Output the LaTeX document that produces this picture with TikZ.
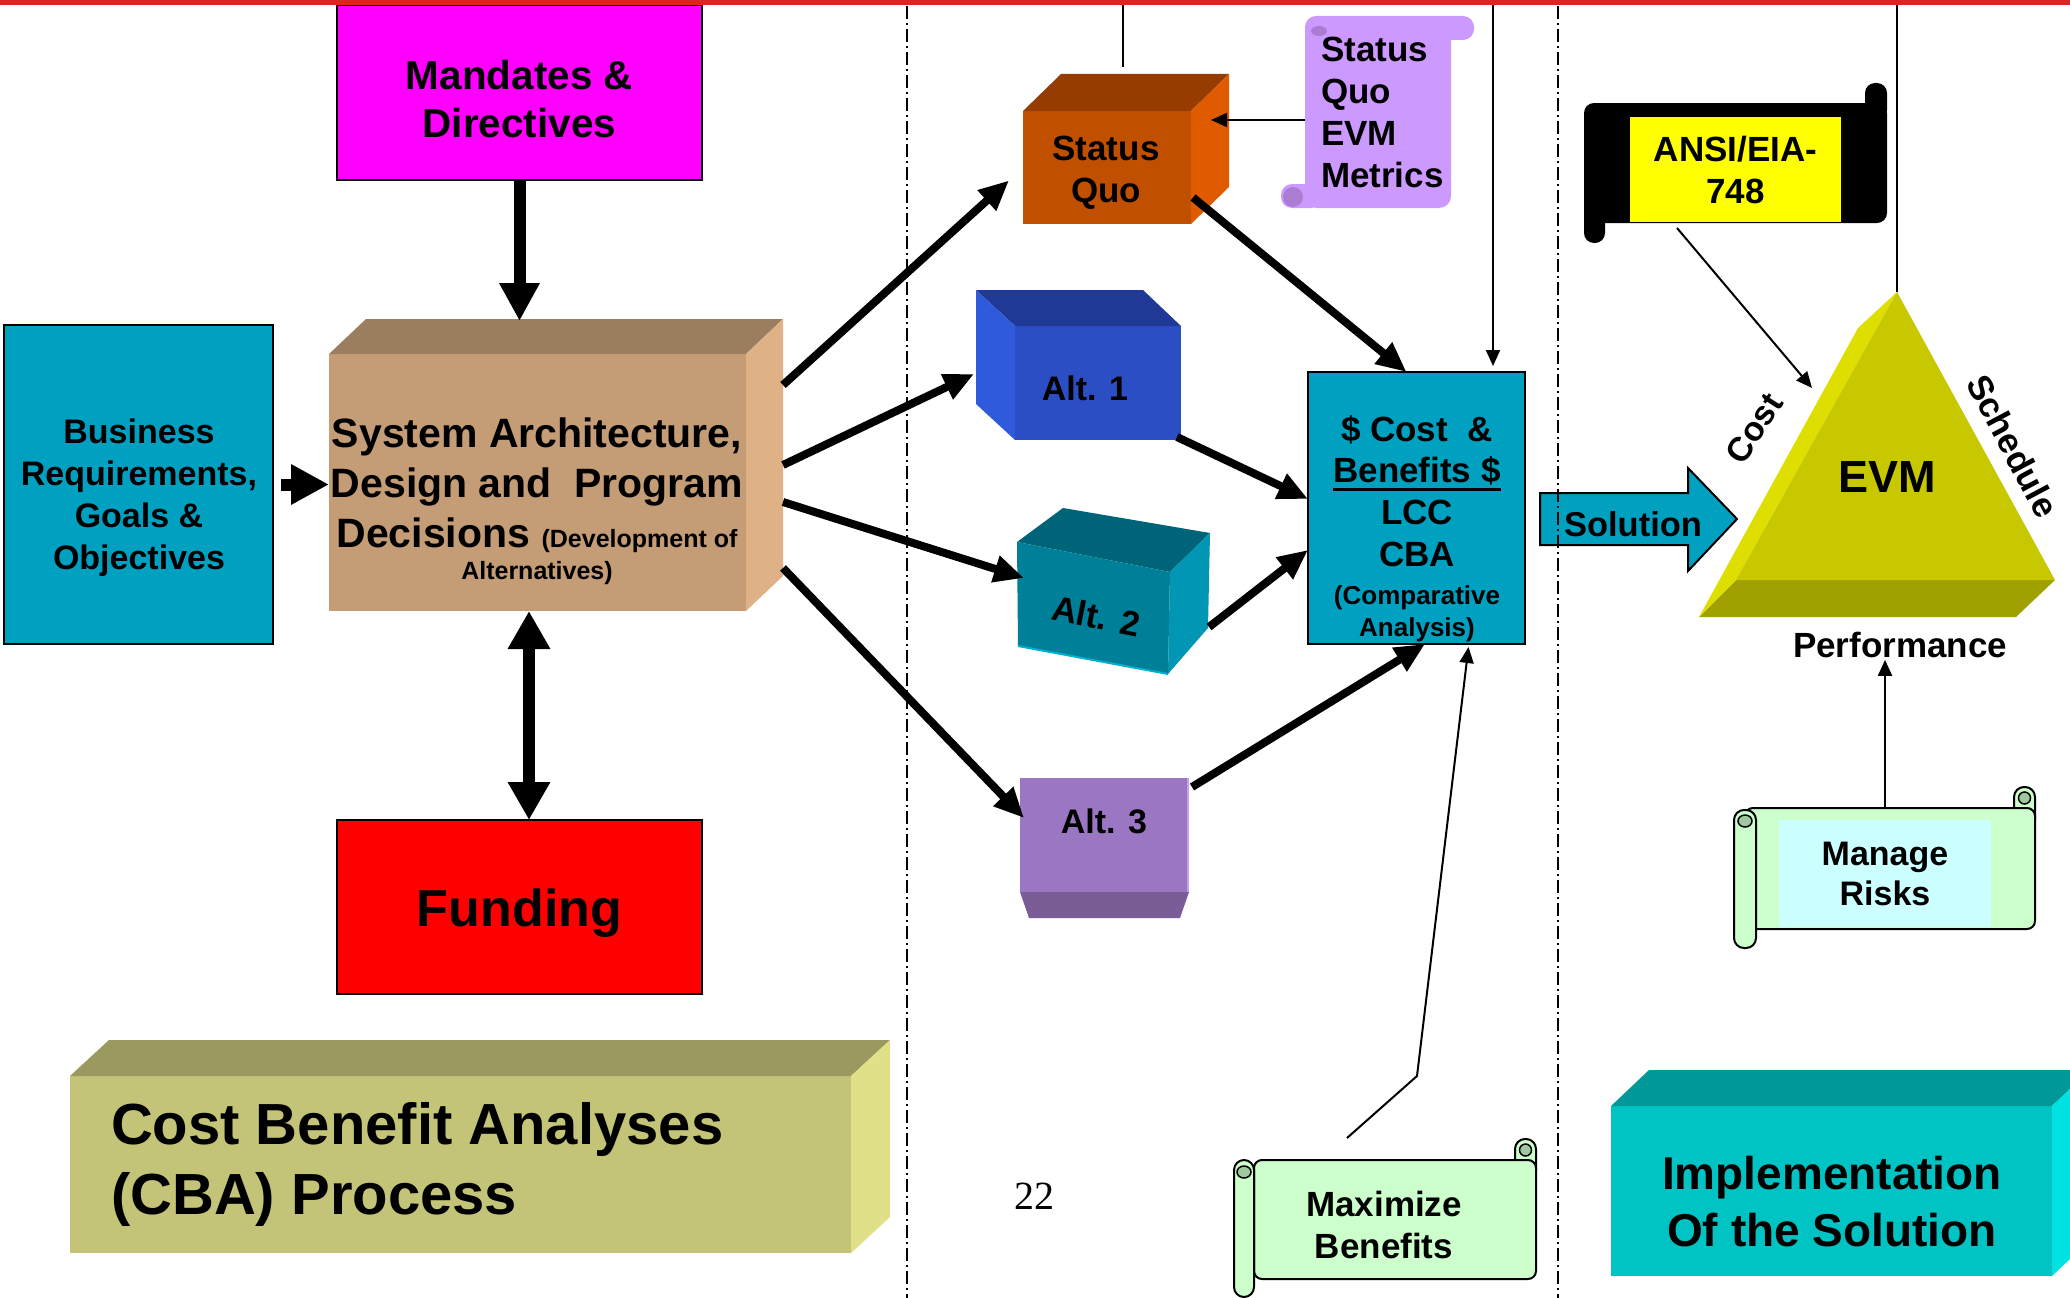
\documentclass[tikz,border=0pt]{standalone}
\usepackage{fontspec}
\setmainfont{Liberation Sans}
\newfontfamily\pagenumfont{Liberation Serif}
\usetikzlibrary{arrows.meta,calc}

\definecolor{topred}{RGB}{222,35,35}
\definecolor{magentabox}{RGB}{255,0,255}
\definecolor{bizblue}{RGB}{0,160,192}
\definecolor{sysfront}{RGB}{196,156,118}
\definecolor{systop}{RGB}{155,125,95}
\definecolor{sysside}{RGB}{222,178,134}
\definecolor{fundred}{RGB}{255,0,0}
\definecolor{sqfront}{RGB}{192,80,0}
\definecolor{sqtop}{RGB}{150,60,0}
\definecolor{sqside}{RGB}{224,90,0}
\definecolor{altAfront}{RGB}{43,78,196}
\definecolor{altAtop}{RGB}{33,57,150}
\definecolor{altAside}{RGB}{48,90,220}
\definecolor{altBfront}{RGB}{0,128,152}
\definecolor{altBtop}{RGB}{0,100,120}
\definecolor{altBside}{RGB}{0,150,180}
\definecolor{altBedge}{RGB}{0,175,205}
\definecolor{altCfront}{RGB}{155,118,194}
\definecolor{altCbottom}{RGB}{122,92,150}
\definecolor{altClight}{RGB}{200,160,240}
\definecolor{metricpurple}{RGB}{204,153,255}
\definecolor{metriccurl}{RGB}{170,125,210}
\definecolor{ansiyellow}{RGB}{255,255,0}
\definecolor{evmfront}{RGB}{200,200,0}
\definecolor{evmbevel}{RGB}{222,222,0}
\definecolor{evmbottom}{RGB}{160,160,0}
\definecolor{scrollgreen}{RGB}{204,255,204}
\definecolor{scrollcurl}{RGB}{160,200,160}
\definecolor{riskcyan}{RGB}{204,255,255}
\definecolor{cbafront}{RGB}{196,196,120}
\definecolor{cbatop}{RGB}{153,153,96}
\definecolor{cbaside}{RGB}{224,224,136}
\definecolor{implfront}{RGB}{0,196,196}
\definecolor{impltop}{RGB}{0,152,152}
\definecolor{implside}{RGB}{0,226,226}

\newcommand\fsz[2]{\fontsize{#1}{#2}\selectfont}
\newsavebox\ulsave
\newcommand\ulbox[1]{\sbox\ulsave{#1}\rlap{\rule[-8pt]{\wd\ulsave}{3pt}}\usebox\ulsave}

\tikzset{
  box/.style={rectangle, inner sep=0pt, outer sep=0pt},
  txt/.style={inner sep=0pt, outer sep=0pt, align=center, font=\bfseries},
  bigarrow/.style={line width=12pt, -{Triangle[length=38pt,width=38pt]}},
  bigdouble/.style={line width=12pt, {Triangle[length=38pt,width=40pt]}-{Triangle[length=38pt,width=40pt]}},
  feed/.style={line width=8pt, -{Triangle[length=30pt,width=26pt]}},
  thinarrow/.style={line width=2pt, -{Triangle[length=16pt,width=14pt]}},
  plainline/.style={line width=2pt},
  divider/.style={line width=1.5pt, dash pattern=on 13pt off 4pt on 2pt off 4pt},
}

\begin{document}
\begin{tikzpicture}[x=1pt,y=-1pt]
\useasboundingbox (0,0) rectangle (2070,1298);
\clip (0,0) rectangle (2070,1298);
\fill[white] (0,0) rectangle (2070,1298);

% ---------- left column ----------
\node[box, draw, line width=2pt, fill=magentabox, minimum width=365pt, minimum height=175pt] (mand) at (519.5,92.5) {};
\node[txt, font=\bfseries\fsz{40.5}{48}] (mandtxt) at (519.5,99) {Mandates \&\\Directives};

\node[box, draw, line width=2pt, fill=bizblue, minimum width=269pt, minimum height=319pt] (biz) at (138.5,484.5) {};
\node[txt, font=\bfseries\fsz{34}{42}] (biztxt) at (139,498) {Business\\Requirements,\\Goals \&\\Objectives};

% system architecture block
\node[box, fill=sysfront, minimum width=417pt, minimum height=257pt] (sys) at (537.5,482.5) {};
\fill[systop] (sys.north west) -- ++(37,-35) -- ($(sys.north east)+(37,-35)$) -- (sys.north east) -- cycle;
\fill[sysside] (sys.north east) -- ++(37,-35) -- ($(sys.south east)+(37,-35)$) -- (sys.south east) -- cycle;
\node[txt, font=\bfseries\fsz{41}{50}] (systxt) at (537,485) {System Architecture,\\Design and~~Program\\Decisions {\fsz{25}{30}(Development of}};
\node[txt, font=\bfseries\fsz{25}{30}] (systxt2) at (537,573) {Alternatives)};

\node[box, draw, line width=2pt, fill=fundred, minimum width=365pt, minimum height=174pt] (fund) at (519.5,907) {};
\node[txt, font=\bfseries\fsz{52}{60}] (fundtxt) at (519.5,913) {Funding};

\coordinate (sysback) at ($(sys.north)+(0,-33)$);
\draw[bigarrow] (mand.south) -- (mand.south |- sysback);
\draw[bigarrow, shorten <=8pt] (biz.east) -- (sys.west |- biz.east);
\coordinate (sysbot) at ($(sys.south)+(-8.5,0)$);
\coordinate (fundtop) at ($(fund.north)+(9.5,0)$);
\draw[bigdouble] (sysbot) -- (fundtop);

% process title block
\node[box, fill=cbafront, minimum width=781pt, minimum height=177pt] (proc) at (460.5,1164.5) {};
\fill[cbatop] (proc.north west) -- ++(39,-36) -- ($(proc.north east)+(39,-36)$) -- (proc.north east) -- cycle;
\fill[cbaside] (proc.north east) -- ++(39,-36) -- ($(proc.south east)+(39,-36)$) -- (proc.south east) -- cycle;
\node[txt, align=left, anchor=west, font=\bfseries\fsz{58}{70}] (proctxt) at (111,1164) {Cost Benefit Analyses\\(CBA) Process};

% ---------- middle column ----------
% status quo block
\node[box, fill=sqfront, minimum width=168pt, minimum height=113pt] (sq) at (1107,167.5) {};
\fill[sqtop] (sq.north west) -- ++(38,-37) -- ($(sq.north east)+(38,-37)$) -- (sq.north east) -- cycle;
\fill[sqside] (sq.north east) -- ++(38,-37) -- ($(sq.south east)+(38,-37)$) -- (sq.south east) -- cycle;
\node[txt, font=\bfseries\fsz{35}{42}] (sqtxt) at (1106,173) {Status\\Quo};

% metrics scroll
\fill[metricpurple, rounded corners=11pt] (1305,16) rectangle (1474,40);
\node[box, fill=metricpurple, rounded corners=12pt, minimum width=146pt, minimum height=190pt] (sqm) at (1378,113) {};
\fill[metricpurple, rounded corners=11pt] (1281,184) rectangle (1322,208);
\fill[metriccurl] (1293,197) circle (10);
\fill[metriccurl] (1319,31) ellipse (8 and 5);
\node[txt, align=left, anchor=west, font=\bfseries\fsz{35}{42}] (sqmtxt) at (1321,112) {Status\\Quo\\EVM\\Metrics};
\coordinate (sqR) at ($(sq.east)+(20,-47.5)$);
\draw[thinarrow] (sqm.west |- sqR) -- (sqR);

% alternative 1
\node[box, fill=altAfront, minimum width=166pt, minimum height=114pt] (a1) at (1098,383) {};
\fill[altAtop] (a1.north west) -- ++(-39,-36) -- ($(a1.north east)+(-38,-36)$) -- (a1.north east) -- cycle;
\fill[altAside] (a1.north west) -- ++(-39,-36) -- ($(a1.south west)+(-39,-36)$) -- (a1.south west) -- cycle;
\node[txt, font=\bfseries\fsz{34}{40}] (a1txt) at (1085,388) {Alt. 1};

% alternative 2 (tilted block)
\fill[altBtop] (1017,542) -- (1063,508) -- (1210,533) -- (1170,572) -- cycle;
\fill[altBside] (1170,572) -- (1210,533) -- (1208,628) -- (1168,674) -- cycle;
\fill[altBfront] (1017,542) -- (1170,572) -- (1168,674) -- (1018,646) -- cycle;
\draw[altBedge, line width=2pt] (1018,646) -- (1168,674);
\node[txt, rotate=-11, font=\bfseries\fsz{35}{40}] (a2) at (1096,616) {Alt. 2};
\coordinate (a2in) at (1024,578);
\coordinate (a2out) at (1209,627);

% alternative 3
\node[box, fill=altCfront, minimum width=169pt, minimum height=114pt] (a3) at (1104.5,835) {};
\fill[altCbottom] (a3.south west) -- (a3.south east) -- ++(-9,26) -- ($(a3.south west)+(9,26)$) -- cycle;
\draw[altClight, line width=2pt] ($(a3.north east)+(-1,0)$) -- ($(a3.south east)+(-1,0)$);
\node[txt, font=\bfseries\fsz{34}{40}] (a3txt) at (1104,821) {Alt. 3};

% cost & benefits block
\node[box, draw, line width=2.5pt, fill=bizblue, minimum width=217pt, minimum height=272pt] (cba) at (1416.5,508) {};
\node[txt, font=\bfseries\fsz{35}{41.7}] (cbatxt) at (1417,491) {\$ Cost~~\&\\\ulbox{Benefits \$}\\LCC\\CBA};
\node[txt, font=\bfseries\fsz{26}{32}] (cbatxt2) at (1417,613.5) {(Comparative\\Analysis)};

% maximize benefits scroll
\filldraw[fill=scrollgreen, line width=2pt, rounded corners=10pt] (1515,1139) rectangle (1536,1180);
\node[box, draw, line width=2pt, fill=scrollgreen, rounded corners=8pt, minimum width=282pt, minimum height=119pt] (maxscroll) at (1395,1219.5) {};
\filldraw[fill=scrollcurl, line width=1.5pt] (1525.5,1150) circle (6);
\filldraw[fill=scrollgreen, line width=2pt, rounded corners=10pt] (1234,1160) rectangle (1254,1297);
\filldraw[fill=scrollcurl, line width=1.5pt] (1244,1172) ellipse (7 and 6);
\node[txt, font=\bfseries\fsz{35}{42}] (maxtxt) at (1384,1225) {Maximize\\Benefits};

\node[inner sep=0pt, font=\pagenumfont\fsz{40}{44}] (pagenum) at (1034,1196) {22};

% feeds from the architecture block
\coordinate (p1) at ($(sys.north east)+(37,31)$);
\coordinate (p2) at ($(sys.north east)+(37,111)$);
\coordinate (p3) at ($(sys.north east)+(37,148)$);
\coordinate (p4) at ($(sys.north east)+(37,214)$);
\draw[feed] (p1) -- ($(sq.west)+(-14,13)$);
\draw[feed] (p2) -- ($(a1.north west)+(-41,48)$);
\draw[feed] (p3) -- (a2in);
\draw[feed] (p4) -- ($(a3.west)+(4,-17)$);

% feeds into the comparative analysis
\draw[feed] ($(sq.east)+(2,30)$) -- ($(cba.north)+(-10,0)$);
\draw[feed] ($(a1.south east)+(-4,-3)$) -- ($(cba.west)+(0,-9)$);
\draw[feed] (a2out) -- ($(cba.west)+(0,42)$);
\draw[feed] ($(a3.north east)+(3,9)$) -- ($(cba.south)+(8.5,0)$);
\draw[thinarrow] ($(maxscroll.north west)+(93,-22)$) -- ++(70,-62) -- ($(cba.south)+(52,3)$);

% lines entering from above
\coordinate (feedA) at (1123,0);
\coordinate (feedB) at (1493,0);
\coordinate (feedC) at (1897,0);
\draw[plainline] (feedA) -- ($(sq.north)+(16,-44)$);
\draw[thinarrow, shorten >=6pt] (feedB) -- (feedB |- cba.north);

% ---------- right column ----------
\filldraw[fill=bizblue, draw=black, line width=2pt] (1540,493) -- (1688,493) -- (1688,468) -- (1737,519) -- (1688,571) -- (1688,545) -- (1540,545) -- cycle;
\node[txt, font=\bfseries\fsz{34.5}{40}] (sol) at (1633,524) {Solution};

% standard scroll
\node[box, fill=black, rounded corners=10pt, minimum width=303pt, minimum height=120pt] (ansiscroll) at (1735.5,163) {};
\fill[black, rounded corners=10pt] (1865,83) rectangle (1887,120);
\fill[black, rounded corners=10pt] (1584,200) rectangle (1605,243);
\node[box, fill=ansiyellow, minimum width=211pt, minimum height=105pt, align=center, font=\bfseries\fsz{35}{42}] (ansi) at (1735.5,169.5) {ANSI/EIA-\\748};

% EVM triangle
\coordinate (apex) at (1897,292);
\fill[evmbottom] (1699,617) -- (2016,617) -- (2055,580) -- (1736,580) -- cycle;
\fill[evmbevel] (1699,617) -- (1858,328) -- (apex) -- (1736,580) -- cycle;
\fill[evmfront] (1736,580) -- (apex) -- (2055,580) -- cycle;
\node[txt, font=\bfseries\fsz{45}{50}] (evm) at (1887,477) {EVM};
\node[txt, rotate=57, font=\bfseries\fsz{34}{40}] (costlbl) at (1754,428) {Cost};
\node[txt, rotate=-62, font=\bfseries\fsz{35}{40}] (schedlbl) at (2013,446) {Schedule};
\node[txt, font=\bfseries\fsz{35}{40}] (perf) at (1900,645) {Performance};
\draw[plainline] (feedC) -- (apex);
\coordinate (costside) at (1812,388);
\draw[thinarrow] ($(ansiscroll.south)+(-58.5,5)$) -- (costside);

% manage risks scroll
\filldraw[fill=scrollgreen, line width=2pt, rounded corners=10pt] (2014,787) rectangle (2035,830);
\node[box, draw, line width=2pt, fill=scrollgreen, rounded corners=8pt, minimum width=290pt, minimum height=121pt] (riskscroll) at (1890,868.5) {};
\filldraw[fill=scrollcurl, line width=1.5pt] (2024.5,798) circle (6);
\filldraw[fill=scrollgreen, line width=2pt, rounded corners=10pt] (1734,810) rectangle (1756,948);
\filldraw[fill=scrollcurl, line width=1.5pt] (1745,821) ellipse (7 and 6);
\node[box, fill=riskcyan, minimum width=212pt, minimum height=107pt, align=center, font=\bfseries\fsz{34}{40}] (risk) at (1885,873.5) {Manage\\Risks};
\draw[thinarrow, shorten >=2pt] (risk.north |- riskscroll.north) -- (risk.north |- perf.south);

% implementation block
\node[box, fill=implfront, minimum width=441pt, minimum height=170pt] (impl) at (1831.5,1191) {};
\fill[impltop] (impl.north west) -- ++(38,-36) -- ($(impl.north east)+(38,-36)$) -- (impl.north east) -- cycle;
\fill[implside] (impl.north east) -- ++(38,-36) -- ($(impl.south east)+(38,-36)$) -- (impl.south east) -- cycle;
\node[txt, font=\bfseries\fsz{46}{57}] (impltxt) at (1832,1201.5) {Implementation\\Of the Solution};

% column dividers and top rule
\draw[divider] (907,6) -- (907,1298);
\draw[divider] (1558,6) -- (1558,1298);
\fill[topred] (0,0) rectangle (2070,5);
\end{tikzpicture}
\end{document}
